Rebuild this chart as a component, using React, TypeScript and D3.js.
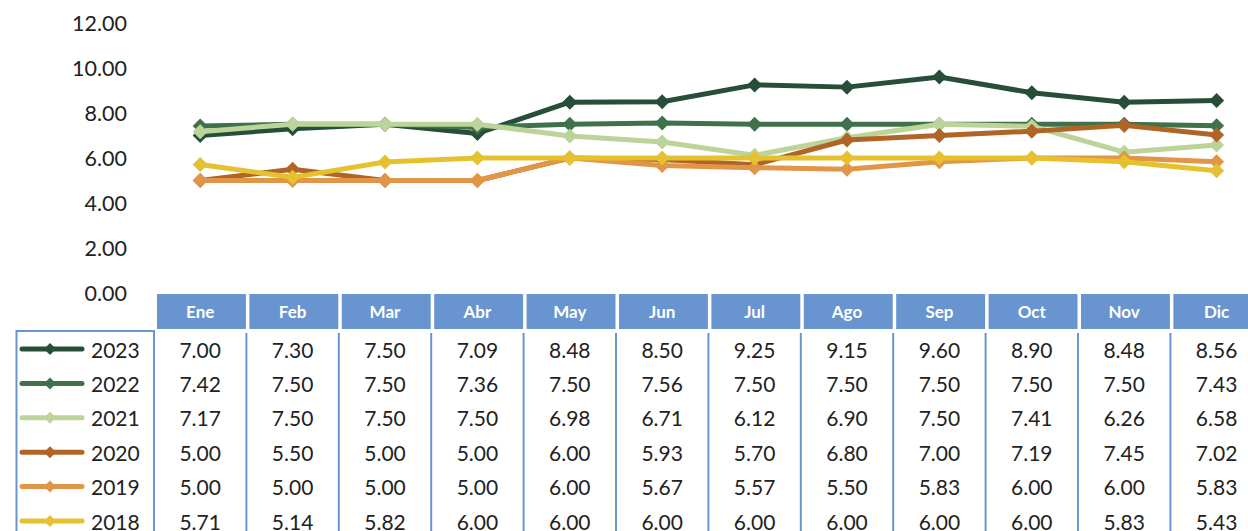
import React from "react";
import * as d3 from "d3";

const months = ["Ene", "Feb", "Mar", "Abr", "May", "Jun", "Jul", "Ago", "Sep", "Oct", "Nov", "Dic"];
const years = ["2023", "2022", "2021", "2020", "2019", "2018"];
const v2023 = [7.0, 7.3, 7.5, 7.09, 8.48, 8.5, 9.25, 9.15, 9.6, 8.9, 8.48, 8.56];
const v2022 = [7.42, 7.5, 7.5, 7.36, 7.5, 7.56, 7.5, 7.5, 7.5, 7.5, 7.5, 7.43];
const v2021 = [7.17, 7.5, 7.5, 7.5, 6.98, 6.71, 6.12, 6.9, 7.5, 7.41, 6.26, 6.58];
const v2020 = [5.0, 5.5, 5.0, 5.0, 6.0, 5.93, 5.7, 6.8, 7.0, 7.19, 7.45, 7.02];
const v2019 = [5.0, 5.0, 5.0, 5.0, 6.0, 5.67, 5.57, 5.5, 5.83, 6.0, 6.0, 5.83];
const v2018 = [5.71, 5.14, 5.82, 6.0, 6.0, 6.0, 6.0, 6.0, 6.0, 6.0, 5.83, 5.43];
const yTicks = [0, 2, 4, 6, 8, 10, 12];
const colors = ["#274E38", "#3F714A", "#BCD49A", "#B06526", "#E09646", "#E6C12F"];

const seriesValues = [v2023, v2022, v2021, v2020, v2019, v2018];

const W = 1248;
const H = 531;
const FONT = "Lato, 'Open Sans', sans-serif";
const BLUE = "#6895CF";

export default function App() {
  const colW = 92.4;
  const left = 154;
  const x = d3.scaleBand<string>().domain(months).range([left, left + colW * months.length]).padding(0);
  const xc = (m: string) => (x(m) as number) + x.bandwidth() / 2;
  const y = d3.scaleLinear().domain([0, 12]).range([293, 23]);
  const line = d3
    .line<number>()
    .x((_, i) => xc(months[i]))
    .y((d) => y(d));
  const diamond = (cx: number, cy: number, r: number) =>
    `M${cx},${cy - r}L${cx + r},${cy}L${cx},${cy + r}L${cx - r},${cy}Z`;

  const headerTop = 294;
  const headerH = 35;
  const rowY0 = 349;
  const rowH = 34.4;
  const tableTop = 331;

  return (
    <svg
      width={W}
      height={H}
      style={{ position: "absolute", left: 0, top: 0, background: "#fff" }}
      fontFamily={FONT}
    >
      <rect width={W} height={H} fill="#fff" />
      {/* y axis labels */}
      {yTicks.map((t) => (
        <text key={t} x={127} y={y(t)} textAnchor="end" dominantBaseline="central" fontSize={21.5} fill="#222">
          {t.toFixed(2)}
        </text>
      ))}
      {/* lines */}
      {seriesValues.map((vals, si) => (
        <g key={years[si]}>
          <path d={line(vals) || ""} fill="none" stroke={colors[si]} strokeWidth={5} strokeLinejoin="round" />
          {vals.map((v, i) => (
            <path key={i} d={diamond(xc(months[i]), y(v), 7.5)} fill={colors[si]} />
          ))}
        </g>
      ))}
      {/* header */}
      {months.map((m) => (
        <g key={m}>
          <rect x={(x(m) as number) + 3} y={headerTop} width={x.bandwidth() - 3.5} height={headerH} fill={BLUE} />
          <text
            x={xc(m)}
            y={headerTop + headerH / 2}
            textAnchor="middle"
            dominantBaseline="central"
            fontSize={17}
            fontWeight="bold"
            fill="#fff"
          >
            {m}
          </text>
        </g>
      ))}
      {/* legend box */}
      <path d={`M16.5,${H}V${tableTop}H${left}V${H}`} fill="none" stroke={BLUE} strokeWidth={2} />
      {months.slice(1).map((m) => (
        <line key={m} x1={x(m) as number} x2={x(m) as number} y1={tableTop + 2} y2={H} stroke={BLUE} strokeWidth={2} />
      ))}
      {/* rows */}
      {years.map((yr, si) => {
        const cy = rowY0 + si * rowH;
        return (
          <g key={yr}>
            <line x1={22} x2={82} y1={cy} y2={cy} stroke={colors[si]} strokeWidth={5} strokeLinecap="round" />
            <path d={diamond(50, cy, 6)} fill={colors[si]} />
            <text x={91} y={cy} dominantBaseline="central" fontSize={21} fill="#222">
              {yr}
            </text>
            {seriesValues[si].map((v, i) => (
              <text
                key={i}
                x={xc(months[i])}
                y={cy}
                textAnchor="middle"
                dominantBaseline="central"
                fontSize={21}
                fill="#222"
              >
                {v.toFixed(2)}
              </text>
            ))}
          </g>
        );
      })}
    </svg>
  );
}
